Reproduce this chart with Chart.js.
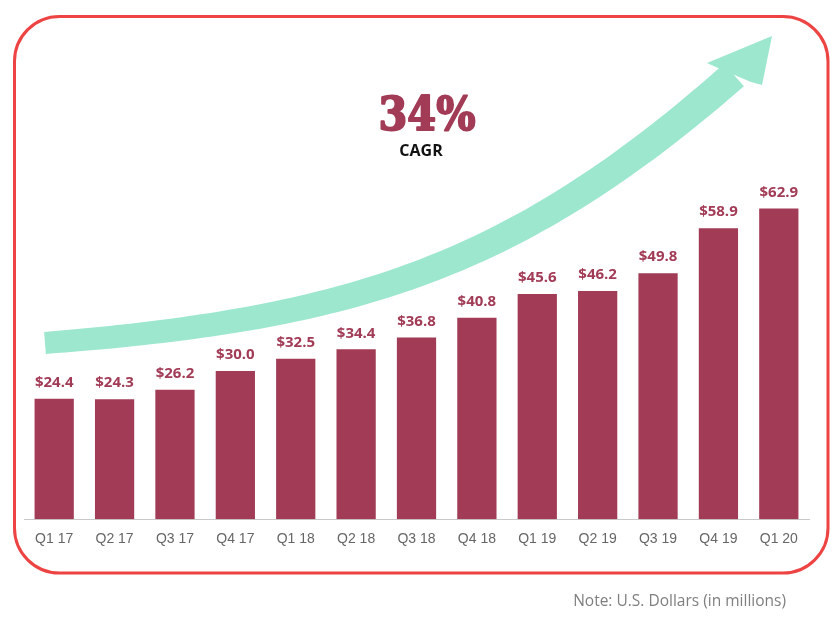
<!DOCTYPE html>
<html>
<head>
<meta charset="utf-8">
<script src="https://cdn.jsdelivr.net/npm/chart.js@4"></script>
<style>
  html, body { margin: 0; padding: 0; background: #ffffff; }
  canvas { display: block; }
</style>
</head>
<body>
<canvas id="c" width="840" height="624"></canvas>
<script>
// ---- data ----
const categories = ['Q1 17','Q2 17','Q3 17','Q4 17','Q1 18','Q2 18','Q3 18','Q4 18','Q1 19','Q2 19','Q3 19','Q4 19','Q1 20'];
const revenue = [24.4, 24.3, 26.2, 30.0, 32.5, 34.4, 36.8, 40.8, 45.6, 46.2, 49.8, 58.9, 62.9];
const cagrText = '34%';
const cagrLabel = 'CAGR';
const noteText = 'Note: U.S. Dollars (in millions)';

const BAR = '#a23b56';
const MINT = '#9de7cf';

const deco = {
  id: 'deco',
  beforeDraw(chart) {
    const ctx = chart.ctx;
    ctx.save();
    ctx.fillStyle = '#ffffff';
    ctx.fillRect(0, 0, chart.width, chart.height);
    // rounded frame
    ctx.strokeStyle = '#ee4343';
    ctx.lineWidth = 3;
    ctx.beginPath();
    ctx.roundRect(14.5, 16.5, 813.5, 556.5, 45);
    ctx.stroke();
    ctx.restore();
  },
  beforeDatasetsDraw(chart) {
    const ctx = chart.ctx;
    ctx.save();
    // curved growth arrow (decoration)
    const P0 = [45, 343], P1 = [345, 319], P2 = [510, 272], P3 = [734, 75];
    const N = 80;
    const left = [], right = [];
    for (let k = 0; k <= N; k++) {
      const t = k / N, u = 1 - t;
      const x = u*u*u*P0[0] + 3*u*u*t*P1[0] + 3*u*t*t*P2[0] + t*t*t*P3[0];
      const y = u*u*u*P0[1] + 3*u*u*t*P1[1] + 3*u*t*t*P2[1] + t*t*t*P3[1];
      const dx = 3*u*u*(P1[0]-P0[0]) + 6*u*t*(P2[0]-P1[0]) + 3*t*t*(P3[0]-P2[0]);
      const dy = 3*u*u*(P1[1]-P0[1]) + 6*u*t*(P2[1]-P1[1]) + 3*t*t*(P3[1]-P2[1]);
      const len = Math.hypot(dx, dy);
      const nx = -dy / len, ny = dx / len;
      const w = (22 + 8 * t) / 2;
      left.push([x + nx*w, y + ny*w]);
      right.push([x - nx*w, y - ny*w]);
    }
    ctx.fillStyle = MINT;
    ctx.beginPath();
    ctx.moveTo(left[0][0], left[0][1]);
    for (const p of left) ctx.lineTo(p[0], p[1]);
    for (let k = right.length - 1; k >= 0; k--) ctx.lineTo(right[k][0], right[k][1]);
    ctx.closePath();
    ctx.fill();
    // head
    ctx.beginPath();
    ctx.moveTo(718, 68);
    ctx.lineTo(707, 63);
    ctx.lineTo(772, 36);
    ctx.lineTo(762, 85);
    ctx.lineTo(751, 82);
    ctx.closePath();
    ctx.fill();
    ctx.restore();
  },
  afterDatasetsDraw(chart) {
    const ctx = chart.ctx;
    ctx.save();
    const meta = chart.getDatasetMeta(0);
    ctx.fillStyle = BAR;
    ctx.font = 'bold 15px "Open Sans"';
    ctx.textAlign = 'center';
    ctx.textBaseline = 'middle';
    meta.data.forEach((bar, i) => {
      ctx.fillText('$' + revenue[i].toFixed(1), bar.x, bar.y - 16);
    });
    // CAGR headline
    ctx.font = 'bold 47px "DejaVu Serif"';
    ctx.textBaseline = 'alphabetic';
    const w = ctx.measureText(cagrText).width;
    ctx.save();
    ctx.translate(427, 130);
    ctx.scale(97 / w, 1);
    ctx.strokeStyle = BAR;
    ctx.lineWidth = 2;
    ctx.lineJoin = 'round';
    ctx.strokeText(cagrText, 0, 0);
    ctx.fillText(cagrText, 0, 0);
    ctx.restore();
    ctx.fillStyle = '#111111';
    ctx.font = 'bold 16px "Open Sans"';
    ctx.textBaseline = 'middle';
    ctx.fillText(cagrLabel, 421, 151);
    // note
    ctx.fillStyle = '#7f7f7f';
    ctx.font = '15.5px "Open Sans"';
    ctx.textAlign = 'right';
    ctx.fillText(noteText, 786, 602);
    ctx.restore();
  }
};

new Chart(document.getElementById('c'), {
  type: 'bar',
  data: {
    labels: categories,
    datasets: [{
      data: revenue,
      backgroundColor: BAR,
      borderWidth: 0,
      barPercentage: 0.65,
      categoryPercentage: 1.0
    }]
  },
  options: {
    responsive: false,
    devicePixelRatio: 1,
    animation: false,
    layout: { padding: { left: 24, right: 31, top: 25, bottom: 0 } },
    plugins: { legend: { display: false }, tooltip: { enabled: false } },
    scales: {
      x: {
        grid: { display: false },
        border: { display: true, color: '#c9c9c9', width: 1 },
        ticks: { color: '#666666', font: { family: '"Liberation Sans", Arial', size: 14 }, padding: 3, maxRotation: 0 },
        afterFit(s) { s.height = 104.7; }
      },
      y: { display: false, min: 0, max: 100 }
    }
  },
  plugins: [deco]
});
</script>
</body>
</html>
